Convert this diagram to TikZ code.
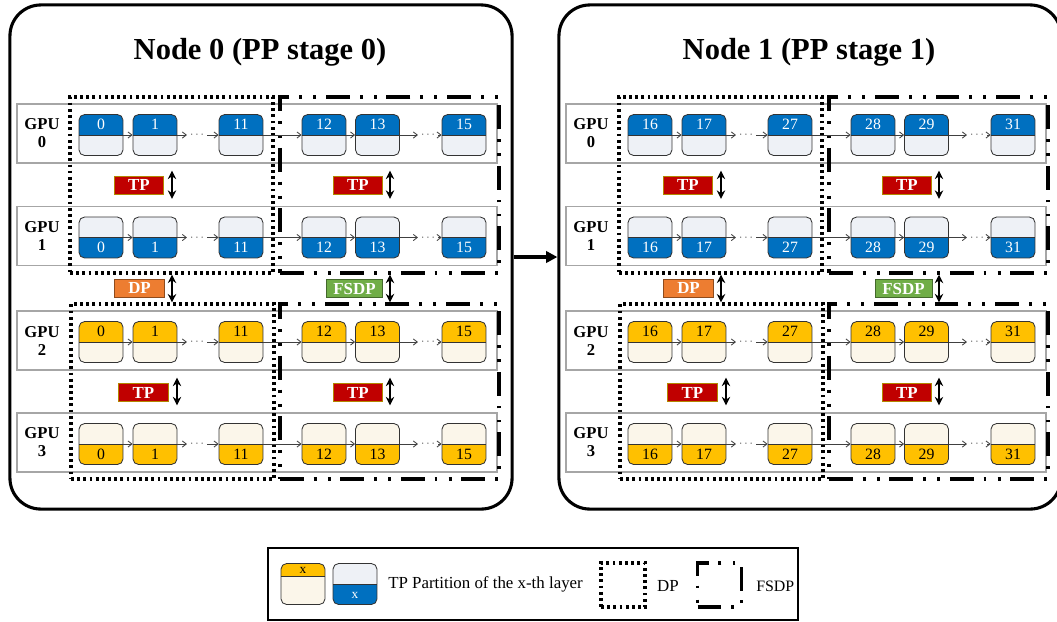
\documentclass[tikz,border=0pt]{standalone}
\usepackage{fontspec}
\setmainfont{Liberation Serif}
\usetikzlibrary{arrows.meta,calc}

\definecolor{blueD}{HTML}{0070C0}
\definecolor{blueW}{HTML}{EEF1F6}
\definecolor{yel}{HTML}{FFC000}
\definecolor{cream}{HTML}{FBF6EA}
\definecolor{tpred}{HTML}{C00000}
\definecolor{dporange}{HTML}{ED7D31}
\definecolor{fsdpgreen}{HTML}{70AD47}
\definecolor{rowgray}{HTML}{A6A6A6}

\begin{document}
\begin{tikzpicture}[x=0.025cm,y=-0.025cm,
  stagebox/.style={draw,line width=2.2pt,rounded corners=22pt,minimum width=12.55cm,minimum height=12.6cm},
  stagetitle/.style={font=\fontsize{21.7}{26}\selectfont\bfseries,inner sep=0pt},
  rowbox/.style={draw=rowgray,line width=0.9pt,fill=white,minimum width=12cm,minimum height=1.475cm},
  gpulbl/.style={font=\fontsize{11.8}{12.8}\selectfont\bfseries,align=center,inner sep=0pt},
  blk/.style n args={3}{draw=black!80,line width=0.6pt,rounded corners=4pt,minimum width=1.1cm,minimum height=1.025cm,
    path picture={
      \fill[#1,sharp corners] (path picture bounding box.north west) rectangle ([yshift=#3]path picture bounding box.east);
      \fill[#2,sharp corners] ([yshift=#3]path picture bounding box.west) rectangle (path picture bounding box.south east);
      \draw[black!80,line width=0.6pt] ([yshift=#3]path picture bounding box.west) -- ([yshift=#3]path picture bounding box.east);}},
  num/.style={font=\fontsize{11.2}{11.2}\selectfont,inner sep=0pt},
  dots/.style={font=\fontsize{8}{8}\selectfont,inner sep=2pt,text=black!70},
  flow/.style={-{Straight Barb[length=2.8pt,width=4.4pt]},draw=black!75,line width=0.6pt},
  dpbox/.style={draw,line width=2.2pt,dash pattern=on 2pt off 2.4pt},
  fsdpbox/.style={draw,line width=2.4pt,dash pattern=on 17pt off 7pt on 2pt off 8pt on 2pt off 7pt},
  tag/.style 2 args={fill=#1,draw=#2,line width=0.6pt,text=white,font=\fontsize{12}{12}\selectfont\bfseries,
    minimum width=1.24cm,minimum height=0.45cm,inner sep=0pt},
  dblarr/.style={{Stealth[length=6pt,width=6pt]}-{Stealth[length=6pt,width=6pt]},line width=1.5pt},
  bigarr/.style={-{Triangle[length=8pt,width=8pt]},line width=2.2pt},
  legbox/.style={draw,line width=1pt,minimum width=13.25cm,minimum height=1.8cm},
  legtxt/.style={font=\fontsize{12}{12}\selectfont,inner sep=0pt}]

\useasboundingbox (0,0) rectangle (1057,621);

\foreach \n/\dx in {0/0,1/549}{
\begin{scope}[shift={(\dx,0)}]
  % stage frame and title
  \node[stagebox] (stage\n) at (261,257) {};
  \node[stagetitle] (title\n) at (260,52) {Node \n{} (PP stage \n)};

  % one row per GPU
  \foreach \g/\y in {0/133.5,1/236,2/340.5,3/442.5}{
    \node[rowbox] (gpu\n\g) at (257,\y) {};
    \node[gpulbl] (lbl\n\g) at (42,\y) {GPU\\\g};
  }

  % DP and FSDP groups
  \node[dpbox,minimum width=5.075cm,minimum height=4.4cm] (dpA\n) at (171.5,185) {};
  \node[dpbox,minimum width=5.075cm,minimum height=4.375cm] (dpB\n) at (172.5,391.5) {};
  \node[fsdpbox,minimum width=5.475cm,minimum height=4.4cm] (fsA\n) at (389.5,185) {};
  \node[fsdpbox,minimum width=5.475cm,minimum height=4.375cm] (fsB\n) at (389.5,391.5) {};

  % layers on each GPU
  \foreach \g/\y/\up/\cA/\cB/\tc in {0/133.5/1/blueD/blueW/white,1/236/-1/blueW/blueD/white,
                                     2/340.5/1/yel/cream/black,3/442.5/-1/cream/yel/black}{
    \foreach \i/\x/\k in {1/101/0,2/155/1,3/241/11,4/324/12,5/377.5/13,6/464/15}{
      \pgfmathtruncatemacro\lay{\k+16*\n}
      \node[blk={\cA}{\cB}{0pt}] (b\n\g\i) at (\x,{\y+1.5}) {};
      \node[num,text=\tc] (t\n\g\i) at ([yshift=\up*7.3pt]b\n\g\i.center) {\lay};
    }
    \node[dots] (da\n\g) at (197,{\y+1.5}) {$\cdots$};
    \node[dots] (db\n\g) at (428,{\y+1.5}) {$\cdots$};
    \draw[flow] (b\n\g1) -- (b\n\g2);
    \draw[flow] (b\n\g2) -- (da\n\g);
    \draw[flow] (da\n\g) -- (b\n\g3);
    \draw[flow] (b\n\g3) -- (b\n\g4);
    \draw[flow] (b\n\g4) -- (b\n\g5);
    \draw[flow] (b\n\g5) -- (db\n\g);
    \draw[flow] (db\n\g) -- (b\n\g6);
  }

  % communication tags
  \node[tag={tpred}{yel!70!black}] (tpA\n) at (139,185) {TP};
  \node[tag={tpred}{yel!70!black}] (tpB\n) at (358,185) {TP};
  \node[tag={tpred}{yel!70!black}] (tpC\n) at (143.5,392.5) {TP};
  \node[tag={tpred}{yel!70!black}] (tpD\n) at (358,392.5) {TP};
  \node[tag={dporange}{dporange!60!black}] (dp\n) at (139.5,288) {DP};
  \node[tag={fsdpgreen}{fsdpgreen!60!black},minimum width=1.42cm] (fsdp\n) at (354.5,288.5) {FSDP};

  \coordinate (aA\n) at (172,185);
  \coordinate (aB\n) at (390,185);
  \coordinate (aC\n) at (177,392);
  \coordinate (aD\n) at (390,392);
  \coordinate (aE\n) at (172,288);
  \coordinate (aF\n) at (390,288);
  \draw[dblarr,shorten <=5pt,shorten >=5pt] (aA\n |- gpu\n0.south) -- (aA\n |- gpu\n1.north);
  \draw[dblarr,shorten <=5pt,shorten >=5pt] (aB\n |- gpu\n0.south) -- (aB\n |- gpu\n1.north);
  \draw[dblarr,shorten <=5pt,shorten >=5pt] (aC\n |- gpu\n2.south) -- (aC\n |- gpu\n3.north);
  \draw[dblarr,shorten <=5pt,shorten >=5pt] (aD\n |- gpu\n2.south) -- (aD\n |- gpu\n3.north);
  \draw[dblarr] (aE\n |- dpA\n.south) -- (aE\n |- dpB\n.north);
  \draw[dblarr] (aF\n |- fsA\n.south) -- (aF\n |- fsB\n.north);
\end{scope}
}

% pipeline hand-off
\draw[bigarr] (stage0.east) -- (stage1.west);

% legend
\node[legbox] (legend) at (533,584) {};
\node[blk={yel}{cream}{5.7pt}] (legY) at (303,584) {};
\node[num,font=\fontsize{9.5}{9.5}\selectfont] (legYx) at (303,570) {x};
\node[blk={blueW}{blueD}{0pt}] (legB) at (355,584) {};
\node[num,font=\fontsize{9.5}{9.5}\selectfont,text=white] (legBx) at (355,595) {x};
\node[legtxt,anchor=west] (legTP) at (388,584) {TP Partition of the x-th layer};
\node[dpbox,minimum width=1.1cm,minimum height=1.1cm] (legDP) at (623,585) {};
\node[legtxt] (legDPt) at (668,586) {DP};
\node[fsdpbox,minimum width=1.1cm,minimum height=1.1cm] (legFS) at (719.5,585) {};
\node[legtxt,anchor=west,font=\fontsize{11.3}{11.3}\selectfont] (legFSt) at (756,586) {FSDP};
\end{tikzpicture}
\end{document}
